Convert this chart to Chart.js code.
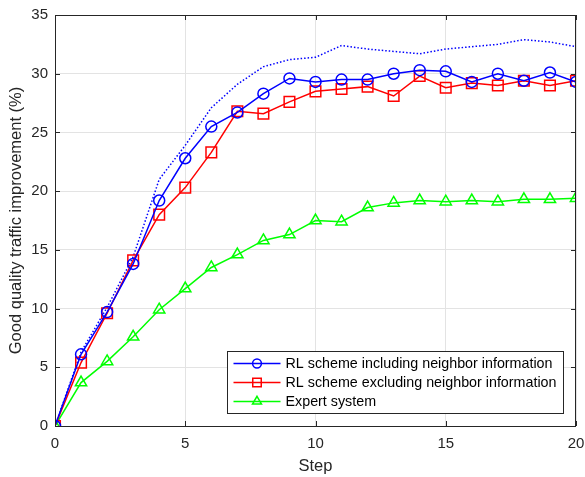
<!DOCTYPE html>
<html>
<head>
<meta charset="utf-8">
<script src="https://cdn.jsdelivr.net/npm/chart.js@4/dist/chart.umd.min.js"></script>
<style>
  html, body { margin: 0; padding: 0; background: #fff; }
  #wrap { width: 585px; height: 477px; }
</style>
</head>
<body>
<div id="wrap"><canvas id="gain_chart" width="585" height="477"></canvas></div>
<script>
var steps = [0, 1, 2, 3, 4, 5, 6, 7, 8, 9, 10, 11, 12, 13, 14, 15, 16, 17, 18, 19, 20];

// RL with neighbour info, RL without, expert system, and the dotted upper curve
var withNeighbor = [0, 6.1, 9.7, 13.8, 19.2, 22.8, 25.5, 26.7, 28.3, 29.6, 29.3, 29.5, 29.5, 30.0, 30.3, 30.2, 29.3, 30.0, 29.4, 30.1, 29.3];
var withoutNeighbor = [0, 5.4, 9.6, 14.1, 18.0, 20.3, 23.3, 26.8, 26.6, 27.6, 28.5, 28.7, 28.9, 28.1, 29.8, 28.8, 29.2, 29.0, 29.4, 29.0, 29.4];
var expert = [0, 3.7, 5.5, 7.6, 9.9, 11.7, 13.5, 14.6, 15.8, 16.3, 17.5, 17.4, 18.6, 19.0, 19.2, 19.1, 19.2, 19.1, 19.3, 19.3, 19.4];
var upperBound = [0, 6.3, 10.1, 14.4, 21.0, 23.9, 27.1, 29.1, 30.6, 31.2, 31.4, 32.4, 32.1, 31.9, 31.7, 32.1, 32.3, 32.5, 32.9, 32.7, 32.3];

var xTicks = [0, 5, 10, 15, 20];
var yTicks = [0, 5, 10, 15, 20, 25, 30, 35];

var axisColor = '#262626';
var gridColor = '#e3e3e3';
var fontFamily = '"Liberation Sans", Arial, Helvetica, sans-serif';

function pts(ys) {
    return ys.map(function (y, i) { return {x: steps[i], y: y}; });
}

// same shapes as chart.js uses, for the legend samples
function drawMarker(ctx, style, r, x, y) {
    ctx.beginPath();
    if (style === 'circle') {
        ctx.arc(x, y, r, 0, Math.PI * 2);
    } else if (style === 'rect') {
        var s = Math.SQRT1_2 * r;
        ctx.rect(x - s, y - s, 2 * s, 2 * s);
    } else if (style === 'triangle') {
        var a = 0;
        ctx.moveTo(x + Math.sin(a) * r, y - Math.cos(a) * r);
        a += Math.PI * 2 / 3;
        ctx.lineTo(x + Math.sin(a) * r, y - Math.cos(a) * r);
        a += Math.PI * 2 / 3;
        ctx.lineTo(x + Math.sin(a) * r, y - Math.cos(a) * r);
        ctx.closePath();
    }
    ctx.stroke();
}

// box, inward ticks on all four sides, and the legend inside the plot
var frame = {
    id: 'frame',
    afterDraw: function (chart) {
        var ctx = chart.ctx;
        var a = chart.chartArea;
        var xs = chart.scales.x, ys = chart.scales.y;
        ctx.save();
        ctx.strokeStyle = axisColor;
        ctx.lineWidth = 1;
        ctx.strokeRect(a.left + 0.5, a.top + 0.5, a.right - a.left - 1, a.bottom - a.top);
        ctx.beginPath();
        xTicks.forEach(function (t) {
            var px = Math.round(xs.getPixelForValue(t)) + 0.5;
            ctx.moveTo(px, a.bottom); ctx.lineTo(px, a.bottom - 5);
            ctx.moveTo(px, a.top); ctx.lineTo(px, a.top + 5);
        });
        yTicks.forEach(function (t) {
            var py = Math.round(ys.getPixelForValue(t)) + 0.5;
            ctx.moveTo(a.left, py); ctx.lineTo(a.left + 5, py);
            ctx.moveTo(a.right, py); ctx.lineTo(a.right - 5, py);
        });
        ctx.stroke();

        // legend
        var items = chart.data.datasets.filter(function (d) { return d.label; });
        ctx.font = '14.3px ' + fontFamily;
        var textW = 0;
        items.forEach(function (d) { textW = Math.max(textW, ctx.measureText(d.label).width); });
        var rowH = 19;
        var w = 58 + textW + 7;
        var h = items.length * rowH + 5;
        var bx = Math.round(a.right - 13 - w) + 0.5;
        var by = Math.round(a.bottom - 13 - h) + 0.5;
        ctx.fillStyle = '#fff';
        ctx.fillRect(bx, by, w, h);
        ctx.strokeStyle = axisColor;
        ctx.strokeRect(bx, by, w, h);
        items.forEach(function (d, i) {
            var cy = by + 12 + i * rowH;
            ctx.strokeStyle = d.borderColor;
            ctx.lineWidth = 1.5;
            ctx.beginPath();
            ctx.moveTo(bx + 6, cy); ctx.lineTo(bx + 53, cy);
            ctx.stroke();
            drawMarker(ctx, d.pointStyle, d.pointRadius * 0.8, bx + 29.5, cy);
            ctx.fillStyle = '#000';
            ctx.textBaseline = 'middle';
            ctx.textAlign = 'left';
            ctx.fillText(d.label, bx + 58, cy + 1);
        });
        ctx.restore();
    }
};

var ctx = document.getElementById('gain_chart').getContext('2d');
var chart = new Chart(ctx, {
    type: 'line',
    data: {
        datasets: [{
            label: 'RL scheme including neighbor information',
            data: pts(withNeighbor),
            borderColor: '#0000ff',
            backgroundColor: 'transparent',
            borderWidth: 1.5,
            pointStyle: 'circle',
            pointRadius: 5.5,
            pointBorderWidth: 1.5,
            order: 1
        }, {
            label: 'RL scheme excluding neighbor information',
            data: pts(withoutNeighbor),
            borderColor: '#ff0000',
            backgroundColor: 'transparent',
            borderWidth: 1.5,
            pointStyle: 'rect',
            pointRadius: 7.5,
            pointBorderWidth: 1.5,
            order: 2
        }, {
            label: 'Expert system',
            data: pts(expert),
            borderColor: '#00ff00',
            backgroundColor: 'transparent',
            borderWidth: 1.5,
            pointStyle: 'triangle',
            pointRadius: 6.5,
            pointBorderWidth: 1.5,
            order: 3
        }, {
            label: '',
            data: pts(upperBound),
            borderColor: '#0000ff',
            backgroundColor: 'transparent',
            borderWidth: 1.5,
            borderDash: [1.5, 2],
            pointRadius: 0,
            order: 4
        }]
    },
    options: {
        responsive: false,
        animation: false,
        events: [],
        layout: {padding: {top: 15, right: 9, bottom: 0, left: 0}},
        plugins: {legend: {display: false}, tooltip: {enabled: false}},
        scales: {
            x: {
                type: 'linear',
                min: 0, max: 20,
                afterBuildTicks: function (s) { s.ticks = xTicks.map(function (v) { return {value: v}; }); },
                afterFit: function (s) { s.height = 51; s.paddingLeft = 0; s.paddingRight = 0; },
                grid: {color: gridColor, drawTicks: false},
                border: {display: false},
                ticks: {color: axisColor, padding: 9, maxRotation: 0, font: {family: fontFamily, size: 15}},
                title: {display: true, text: 'Step', color: axisColor, padding: {top: 0, bottom: 1},
                        font: {family: fontFamily, size: 16.5}}
            },
            y: {
                min: 0, max: 35,
                afterBuildTicks: function (s) { s.ticks = yTicks.map(function (v) { return {value: v}; }); },
                afterFit: function (s) { s.width = 55; s.paddingTop = 0; s.paddingBottom = 0; },
                grid: {color: gridColor, drawTicks: false},
                border: {display: false},
                ticks: {color: axisColor, padding: 7, font: {family: fontFamily, size: 15}},
                title: {display: true, text: 'Good quality traffic improvement (%)', color: axisColor,
                        padding: {top: 7, bottom: 0}, font: {family: fontFamily, size: 16.5}}
            }
        }
    },
    plugins: [frame]
});
</script>
</body>
</html>
